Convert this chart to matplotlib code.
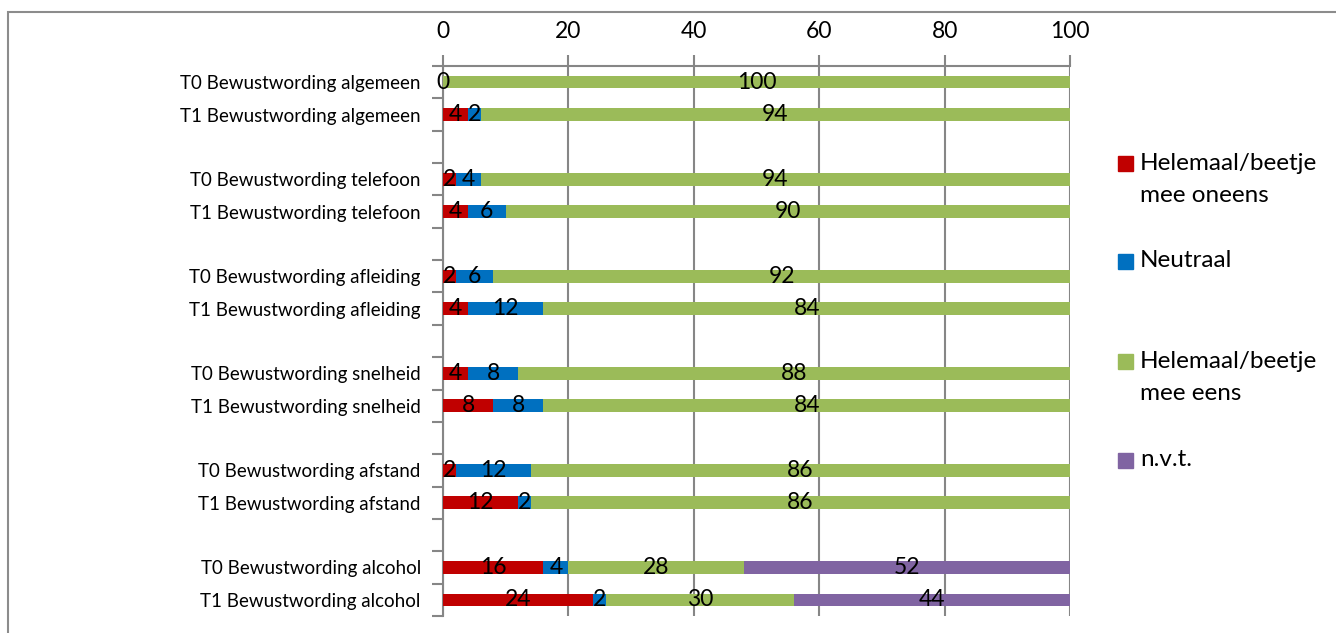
import numpy as np
import matplotlib
matplotlib.use("Agg")
import matplotlib.pyplot as plt
from matplotlib.patches import Rectangle

plt.rcParams['font.family'] = ['Lato', 'DejaVu Sans']

# Survey statements, two measurements (T0/T1) per theme
categories = [
    "T0 Bewustwording algemeen", "T1 Bewustwording algemeen",
    "T0 Bewustwording telefoon", "T1 Bewustwording telefoon",
    "T0 Bewustwording afleiding", "T1 Bewustwording afleiding",
    "T0 Bewustwording snelheid", "T1 Bewustwording snelheid",
    "T0 Bewustwording afstand", "T1 Bewustwording afstand",
    "T0 Bewustwording alcohol", "T1 Bewustwording alcohol",
]
series_names = ["Helemaal/beetje\nmee oneens", "Neutraal",
                "Helemaal/beetje\nmee eens", "n.v.t."]
series_colors = ["#C00000", "#0070C0", "#9BBB59", "#8064A2"]

# Percentages per answer category (NaN = no data)
oneens  = [0, 4, 2, 4, 2, 4, 4, 8, 2, 12, 16, 24]
neutraal = [np.nan, 2, 4, 6, 6, 12, 8, 8, 12, 2, 4, 2]
eens    = [100, 94, 94, 90, 92, 84, 88, 84, 86, 86, 28, 30]
nvt     = [np.nan] * 10 + [52, 44]
series = [oneens, neutraal, eens, nvt]

x_ticks = [0, 20, 40, 60, 80, 100]

fig = plt.figure(figsize=(13.36, 6.33), dpi=100)
ax = fig.add_axes([443 / 1336, 1 - 616 / 633, (1070 - 443) / 1336, (616 - 66) / 633])

# two bars per theme, followed by an empty slot
pos = np.array([(i // 2) * 3 + (i % 2) for i in range(len(categories))])
n_slots = pos.max() + 1

grey = "#868686"
left = np.zeros(len(categories))
for vals, color in zip(series, series_colors):
    v = np.array(vals, dtype=float)
    w = np.nan_to_num(v)
    ax.barh(pos, w, left=left, height=0.39, color=color, edgecolor="none", zorder=3)
    for p, l, val in zip(pos, left, v):
        if not np.isnan(val):
            ax.text(l + val / 2, p, f"{val:g}", ha="center", va="center",
                    fontsize=16.5, color="black", zorder=4)
    left = left + w

ax.set_xlim(0, 100)
ax.set_ylim(n_slots - 0.5, -0.5)
ax.xaxis.tick_top()
ax.set_xticks(x_ticks)
ax.set_xticklabels([str(t) for t in x_ticks], fontsize=16.5)
ax.tick_params(axis="x", which="major", length=8, width=1.5, color=grey, pad=9)

ax.set_yticks(pos)
ax.set_yticklabels(categories, fontsize=13.5)
ax.tick_params(axis="y", which="major", length=0, pad=16)
ax.set_yticks(np.arange(-0.5, n_slots, 1.0), minor=True)
ax.tick_params(axis="y", which="minor", length=8, width=1.5, color=grey)

ax.grid(axis="x", color=grey, linewidth=1.5, zorder=0)
ax.set_axisbelow(True)
for s in ("right", "bottom"):
    ax.spines[s].set_visible(False)
for s in ("top", "left"):
    ax.spines[s].set_color(grey)
    ax.spines[s].set_linewidth(1.5)

# legend entries placed down the right side
legend_y = [163, 261, 361, 460]
for name, color, yc in zip(series_names, series_colors, legend_y):
    fig.patches.append(Rectangle((1118 / 1336, 1 - (yc + 7.5) / 633), 15 / 1336, 15 / 633,
                                 transform=fig.transFigure, color=color))
    for k, line in enumerate(name.split("\n")):
        fig.text(1140 / 1336, 1 - (yc + 32 * k) / 633, line, ha="left", va="center",
                 fontsize=17.5)

# chart frame
fig.patches.append(Rectangle((8 / 1336, -0.1), 1.2, 1 - 12 / 633 + 0.1,
                             transform=fig.transFigure, fill=False,
                             edgecolor="#8c8c8c", linewidth=1.5))

fig.savefig("out.png", dpi=100)
